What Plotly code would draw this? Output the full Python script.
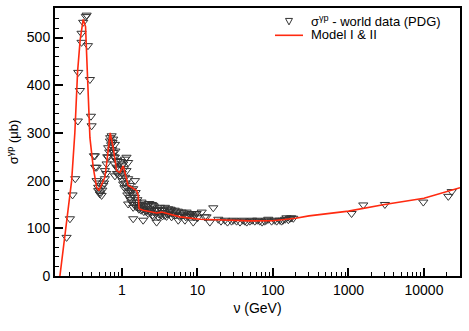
import numpy as np
import plotly.graph_objects as go

# PDG world data for the total photoabsorption cross section on the proton
data_nu = [
    0.185, 0.205, 0.222, 0.241, 0.261, 0.264, 0.278, 0.292, 0.292, 0.307,
    0.333, 0.341, 0.355, 0.377, 0.389, 0.397, 0.426, 0.443, 0.485, 0.511,
    0.439, 0.462, 0.462, 0.485, 0.511, 0.538, 0.565, 0.595, 0.595, 0.627,
    0.658, 0.658, 0.694, 0.731, 0.767, 0.808, 0.767, 0.808, 0.851, 0.851,
    0.893, 0.808, 0.941, 0.991, 1.04, 1.10, 1.15, 1.21, 1.15, 1.10,
    1.21, 1.04, 1.15, 1.28, 1.34, 1.21, 1.49, 1.41, 1.28, 1.34,
    1.21, 1.49, 1.57, 1.64, 1.41, 1.82, 2.02, 1.91, 2.23, 2.35,
    2.60, 2.74, 3.19, 3.36, 3.71, 4.10, 4.55, 5.30, 6.18, 7.19,
    8.38, 9.76, 2.23, 2.60, 3.03, 3.71, 4.55, 5.57, 6.83, 8.80,
    1.41, 1.91, 2.88, 1.34, 1.70, 1.80, 2.10, 2.40, 2.50, 2.80,
    3.00, 3.30, 3.50, 4.00, 4.30, 4.80, 5.00, 5.80, 6.50, 7.50,
    8.00, 9.00, 10.0, 12.5, 11.4, 13.2, 14.6, 16.2, 18.9, 23.1,
    28.3, 33.0, 36.6, 42.5, 49.4, 57.5, 67.0, 77.8, 86.7, 96.0,
    112, 123, 136, 151, 168, 186, 20.5, 25.0, 30.0, 40.0,
    45.0, 53.0, 62.0, 72.0, 82.0, 105, 130, 145, 160, 175,
    0.50, 0.55, 0.58, 0.62, 0.64, 0.68, 0.70, 0.72, 0.74, 0.75,
    0.78, 0.80, 0.82, 0.86, 0.88, 0.90, 0.95, 0.97, 1.00, 1.02,
    1.06, 1.08, 1.12, 1.18, 1.25, 1.30, 1.38, 1.45, 1.52, 1.55,
    1.60, 1.68, 1.75, 1.85, 1.95, 2.05, 2.15, 2.30, 2.45, 2.55,
    2.70, 2.90, 3.10, 3.25, 3.45, 3.60, 3.90, 4.20, 4.40, 4.70,
    5.10, 5.50, 6.00, 6.60, 7.00, 7.80, 8.60, 9.30,
    1100, 1570, 3040, 9800, 21000, 23300,
]
data_sigma = [
    81, 120, 170, 204, 325, 427, 389, 509, 490, 532,
    544, 547, 483, 412, 335, 315, 252, 228, 179, 172,
    252, 228, 200, 186, 176, 169, 190, 204, 221, 235,
    249, 269, 283, 294, 287, 276, 259, 249, 242, 228,
    214, 210, 224, 231, 235, 245, 249, 238, 221, 207,
    204, 193, 186, 190, 176, 176, 200, 183, 165, 155,
    151, 165, 155, 144, 144, 155, 151, 141, 148, 141,
    148, 138, 144, 138, 144, 141, 138, 134, 134, 134,
    131, 131, 131, 124, 124, 127, 124, 117, 117, 113,
    120, 117, 113, 180, 150, 138, 135, 133, 150, 130,
    140, 128, 133, 130, 135, 128, 138, 125, 128, 125,
    128, 124, 122, 124, 134, 124, 113, 143, 119, 117,
    115, 115, 113, 115, 115, 115, 115, 115, 119, 115,
    115, 117, 117, 122, 121, 121, 115, 113, 117, 117,
    113, 117, 117, 113, 117, 117, 115, 119, 118, 122,
    195, 180, 195, 215, 250, 260, 290, 275, 265, 280,
    250, 235, 262, 215, 240, 225, 210, 240, 215, 200,
    225, 185, 195, 170, 180, 160, 170, 150, 175, 145,
    160, 140, 145, 148, 135, 145, 138, 152, 138, 128,
    145, 138, 130, 140, 126, 138, 125, 130, 140, 132,
    128, 136, 128, 132, 124, 130, 126, 128,
    131, 149, 150, 155, 167, 177,
]

# Model I & II curve
model_nu = [
    0.151, 0.185, 0.216, 0.238, 0.259, 0.280, 0.307, 0.330, 0.347, 0.358,
    0.377, 0.417, 0.462, 0.496, 0.538, 0.595, 0.627, 0.670, 0.700, 0.767,
    0.851, 0.941, 1.04, 1.15, 1.21, 1.34, 1.57, 1.64, 1.69, 1.92,
    2.88, 3.36, 5.87, 10.8, 20.0, 50.0, 100, 200, 300, 500,
    1000, 3000, 10000, 30000,
]
model_sigma = [
    0, 110, 200, 300, 429, 495, 538, 523, 426, 356,
    290, 228, 186, 179, 190, 207, 235, 275, 300, 269,
    221, 217, 231, 204, 190, 186, 179, 169, 141, 138,
    132, 134, 124, 119, 117, 115.5, 116, 121, 126, 130,
    136, 150, 163, 185,
]

legend_labels = ["σ<sup>γp</sup> - world data (PDG)", "Model I & II"]

minor_x = [m * 10.0 ** e for e in range(-1, 5) for m in range(2, 10)]
minor_x = [v for v in minor_x if 0.13 <= v <= 30000]

fig = go.Figure()
fig.add_trace(
    go.Scatter(
        x=data_nu,
        y=data_sigma,
        mode="markers",
        name=legend_labels[0],
        marker={"symbol": "triangle-down-open", "size": 8, "color": "#333333",
                "line": {"width": 1}},
    )
)
fig.add_trace(
    go.Scatter(
        x=model_nu,
        y=model_sigma,
        mode="lines",
        name=legend_labels[1],
        line={"color": "#ff2a10", "width": 1.6},
    )
)

# hand-made legend (plotly's rows are too far apart)
fig.add_shape(type="path", xref="paper", yref="paper",
              path="M 0.5691,0.9611 L 0.5864,0.9611 L 0.5778,0.9370 Z",
              line={"color": "#333333", "width": 1})
fig.add_shape(type="line", xref="paper", yref="paper",
              x0=0.5432, x1=0.6123, y0=0.8981, y1=0.8981,
              line={"color": "#ff2a10", "width": 1.6})
for label, ypos in zip(legend_labels, [0.950, 0.900]):
    fig.add_annotation(text=label, xref="paper", yref="paper", x=0.626, y=ypos,
                       xanchor="left", yanchor="middle", showarrow=False,
                       font={"size": 13})

axis_font = {"family": "Liberation Sans, Arial, sans-serif", "size": 14, "color": "black"}

fig.update_layout(
    width=469,
    height=331,
    margin={"l": 55, "r": 9, "t": 6, "b": 55},
    plot_bgcolor="white",
    paper_bgcolor="white",
    font=axis_font,
    showlegend=False,
)
fig.update_xaxes(
    type="log",
    range=[np.log10(0.13), np.log10(30000)],
    tickvals=[1, 10, 100, 1000, 10000],
    ticktext=["1", "10", "100", "1000", "10000"],
    ticks="inside", ticklen=8, tickwidth=1.5, tickcolor="black",
    minor={"tickvals": minor_x, "ticks": "inside", "ticklen": 4,
           "tickwidth": 1, "tickcolor": "black", "showgrid": False},
    showline=True, linecolor="black", linewidth=2, mirror=True,
    showgrid=False, zeroline=False,
    title={"text": "ν (GeV)", "font": {"size": 14}, "standoff": 6},
)
fig.update_yaxes(
    range=[0, 562],
    tickvals=[0, 100, 200, 300, 400, 500],
    ticks="inside", ticklen=8, tickwidth=1.5, tickcolor="black",
    minor={"dtick": 20, "ticks": "inside", "ticklen": 4,
           "tickwidth": 1, "tickcolor": "black", "showgrid": False},
    showline=True, linecolor="black", linewidth=2, mirror=True,
    showgrid=False, zeroline=False,
    title={"text": "σ<sup>γp</sup> (μb)", "font": {"size": 13}, "standoff": 5},
)

fig.write_html("out.html", config={"displayModeBar": False},
               post_script="document.body.style.margin='0';")
